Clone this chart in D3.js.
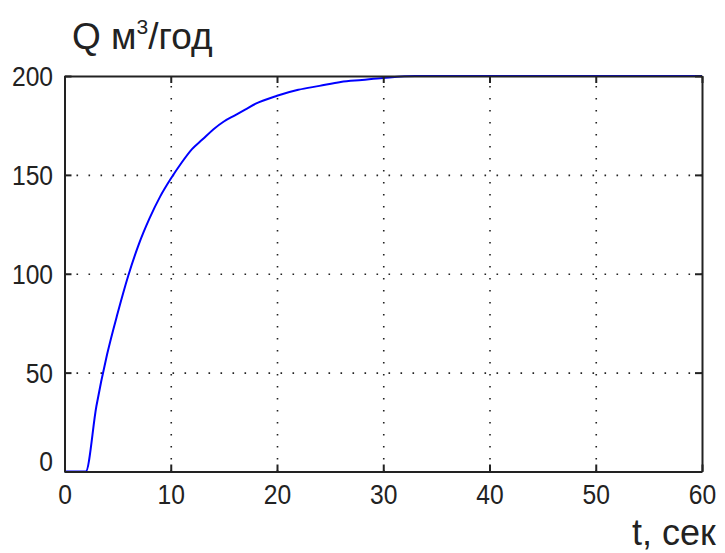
<!DOCTYPE html>
<html>
<head>
  <meta charset="utf-8">
  <script src="https://d3js.org/d3.v7.min.js"></script>
  <style>
    body { margin: 0; background: #fff; }
    svg { display: block; font-family: 'Liberation Sans', Arial, sans-serif; }
    .tick text { font-size: 28px; fill: #222; }
    .grid line { stroke: #222; stroke-width: 1.6; stroke-dasharray: 1.6,10.4; }
    .grid .domain { display: none; }
    .frame line, .frame path { stroke: #222; stroke-width: 2; }
  </style>
</head>
<body>
<script>
  // values
  var timeSec = [0, 2, 3, 4, 5, 6, 7, 8, 9, 10, 11, 12, 13, 14, 15, 16, 17, 18, 20, 22, 24, 26, 28, 30, 33, 60];
  var flowQ   = [0, 0, 33, 59, 80, 99, 115, 128, 139, 148, 156, 163, 168, 173, 177, 180, 183, 186, 190, 193, 195, 197, 198, 199, 200, 200];
  var xTicks = [0, 10, 20, 30, 40, 50, 60];
  var yTicks = [0, 50, 100, 150, 200];

  var W = 725, H = 553;
  var plotL = 64.5, plotT = 76, plotR = 702, plotB = 471.5;
  var pw = plotR - plotL, ph = plotB - plotT;

  var svg = d3.select("body").append("svg")
      .attr("width", W)
      .attr("height", H);

  var x = d3.scaleLinear().domain([0, 60]).range([plotL, plotR]);
  var y = d3.scaleLinear().domain([0, 200]).range([plotB, plotT]);

  // dotted grid
  svg.append("g")
      .attr("class", "grid")
      .attr("transform", "translate(0," + plotB + ")")
      .call(d3.axisBottom(x).tickValues(xTicks.slice(1, -1)).tickSize(-ph).tickFormat(""));
  svg.append("g")
      .attr("class", "grid")
      .attr("transform", "translate(" + plotL + ",0)")
      .call(d3.axisLeft(y).tickValues(yTicks.slice(1, -1)).tickSize(-pw).tickFormat(""));

  // curve
  var pts = timeSec.map(function(t, i) { return [t, flowQ[i]]; });
  svg.append("path")
      .datum(pts)
      .attr("fill", "none")
      .attr("stroke", "#0000ff")
      .attr("stroke-width", 2)
      .attr("d", d3.line().curve(d3.curveMonotoneX)
        .x(function(d) { return x(d[0]); }).y(function(d) { return y(d[1]); }));

  // box with inward ticks
  var xb = svg.append("g").attr("class", "frame")
      .attr("transform", "translate(0," + plotB + ")")
      .call(d3.axisBottom(x).tickValues(xTicks).tickSizeInner(-7).tickSizeOuter(0).tickPadding(13));
  xb.selectAll(".tick text").attr("fill", "#222").attr("transform", "scale(0.88,1)");

  svg.append("g").attr("class", "frame")
      .attr("transform", "translate(0," + plotT + ")")
      .call(d3.axisTop(x).tickValues(xTicks).tickSizeInner(-7).tickSizeOuter(0).tickFormat(""));

  var yl = svg.append("g").attr("class", "frame")
      .attr("transform", "translate(" + plotL + ",0)")
      .call(d3.axisLeft(y).tickValues(yTicks).tickSizeInner(-7).tickSizeOuter(0).tickPadding(13));
  yl.selectAll(".tick text").attr("fill", "#222").attr("transform", "scale(0.88,1)")
      .attr("dy", function(d) { return d === 0 ? "-0.03em" : "0.34em"; });

  svg.append("g").attr("class", "frame")
      .attr("transform", "translate(" + plotR + ",0)")
      .call(d3.axisRight(y).tickValues(yTicks).tickSizeInner(-7).tickSizeOuter(0).tickFormat(""));

  svg.selectAll(".frame .domain").attr("stroke", "#222").attr("stroke-width", 2);

  // titles
  var ttl = svg.append("text")
      .attr("x", 72)
      .attr("y", 49)
      .attr("font-size", 37)
      .attr("fill", "#222");
  ttl.append("tspan").text("Q м");
  ttl.append("tspan").attr("font-size", 21).attr("dy", -15).text("3");
  ttl.append("tspan").attr("dy", 15).text("/год");

  svg.append("text")
      .attr("x", 632)
      .attr("y", 545)
      .attr("font-size", 36)
      .attr("fill", "#222")
      .text("t, сек");
</script>
</body>
</html>
